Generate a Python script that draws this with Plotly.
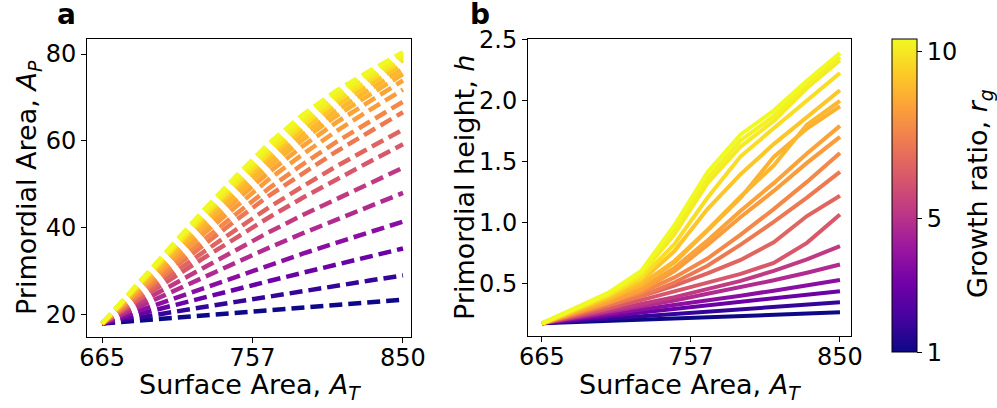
import plotly.graph_objects as go
from plotly.colors import sample_colorscale

# ---------------- data ----------------
surface_area = [665.0, 685.4, 705.9, 726.3, 746.8, 767.2, 787.7, 808.1, 828.6, 849.0]

# growth ratio of each curve (colour), lowest to highest
growth_ratio = [1.0, 1.7, 2.8, 3.6, 4.6, 5.1, 6.0, 6.4, 7.0, 7.4,
                7.9, 8.1, 8.45, 8.55, 8.9, 9.4, 9.7, 9.85, 10.0]

# panel a: primordial area A_P (one list per curve)
area_p1 = [17.9, 18.5, 19.1, 19.7, 20.3, 21.0, 21.6, 22.2, 22.8, 23.4]
area_p2 = [17.9, 19.2, 20.4, 21.6, 22.9, 24.1, 25.4, 26.6, 27.8, 29.0]
area_p3 = [17.9, 19.9, 21.8, 23.8, 25.8, 27.7, 29.6, 31.5, 33.4, 35.2]
area_p4 = [17.9, 20.6, 23.3, 26.0, 28.7, 31.4, 34.0, 36.5, 39.0, 41.4]
area_p5 = [17.9, 21.4, 24.9, 28.5, 31.9, 35.4, 38.7, 41.9, 44.9, 48.0]
area_p6 = [17.9, 22.2, 26.4, 30.6, 34.8, 39.0, 42.9, 46.6, 50.2, 53.8]
area_p7 = [17.9, 22.9, 27.8, 32.8, 37.6, 42.4, 46.9, 51.1, 55.2, 59.2]
area_p8 = [17.9, 23.4, 28.8, 34.2, 39.5, 44.7, 49.5, 54.1, 58.4, 62.6]
area_p9 = [17.9, 23.9, 29.9, 35.9, 41.7, 47.4, 52.6, 57.5, 62.1, 66.6]
area_p10 = [17.9, 24.3, 30.7, 36.9, 43.1, 49.1, 54.6, 59.7, 64.4, 69.0]
area_p11 = [17.9, 24.7, 31.5, 38.3, 44.8, 51.2, 56.9, 62.2, 67.1, 71.8]
area_p12 = [17.9, 25.1, 32.2, 39.3, 46.2, 52.8, 58.8, 64.2, 69.1, 73.9]
area_p13 = [17.9, 25.4, 32.8, 40.1, 47.2, 54.1, 60.2, 65.7, 70.6, 75.4]
area_p14 = [17.9, 25.6, 33.3, 40.9, 48.2, 55.2, 61.4, 66.9, 71.8, 76.6]
area_p15 = [17.9, 25.9, 33.7, 41.5, 49.1, 56.3, 62.6, 68.1, 73.0, 77.7]
area_p16 = [17.9, 26.0, 34.2, 42.2, 49.9, 57.2, 63.6, 69.1, 74.0, 78.6]
area_p17 = [17.9, 26.2, 34.5, 42.7, 50.6, 58.1, 64.5, 70.0, 74.8, 79.3]
area_p18 = [17.9, 26.4, 34.9, 43.3, 51.3, 58.8, 65.3, 70.8, 75.5, 79.9]
area_p19 = [17.9, 26.6, 35.2, 43.7, 51.8, 59.5, 66.0, 71.5, 76.1, 80.4]

# panel b: primordial height h (one list per curve)
height_1 = [0.170, 0.180, 0.190, 0.200, 0.210, 0.220, 0.230, 0.240, 0.250, 0.260]
height_2 = [0.170, 0.189, 0.208, 0.227, 0.246, 0.266, 0.285, 0.304, 0.323, 0.342]
height_3 = [0.170, 0.199, 0.229, 0.258, 0.287, 0.317, 0.346, 0.375, 0.405, 0.434]
height_4 = [0.170, 0.207, 0.245, 0.282, 0.319, 0.358, 0.397, 0.438, 0.481, 0.525]
height_5 = [0.170, 0.216, 0.262, 0.310, 0.358, 0.412, 0.465, 0.523, 0.585, 0.653]
height_6 = [0.170, 0.221, 0.271, 0.328, 0.385, 0.449, 0.518, 0.600, 0.695, 0.803]
height_7 = [0.170, 0.230, 0.292, 0.360, 0.430, 0.500, 0.575, 0.665, 0.830, 1.063]
height_8 = [0.170, 0.240, 0.310, 0.392, 0.480, 0.580, 0.690, 0.835, 1.050, 1.216]
height_9 = [0.170, 0.245, 0.319, 0.394, 0.505, 0.642, 0.816, 1.002, 1.201, 1.412]
height_10 = [0.170, 0.254, 0.338, 0.422, 0.547, 0.701, 0.897, 1.107, 1.330, 1.568]
height_11 = [0.170, 0.254, 0.338, 0.438, 0.598, 0.813, 1.042, 1.256, 1.486, 1.700]
height_12 = [0.170, 0.259, 0.348, 0.454, 0.624, 0.850, 1.093, 1.320, 1.563, 1.790]
height_13 = [0.170, 0.268, 0.366, 0.482, 0.670, 0.930, 1.200, 1.535, 1.768, 1.951]
height_14 = [0.170, 0.270, 0.371, 0.489, 0.681, 0.936, 1.210, 1.465, 1.800, 1.994]
height_15 = [0.170, 0.275, 0.380, 0.514, 0.763, 1.107, 1.394, 1.640, 1.860, 2.082]
height_16 = [0.170, 0.283, 0.396, 0.540, 0.820, 1.200, 1.540, 1.770, 2.000, 2.224]
height_17 = [0.170, 0.287, 0.405, 0.570, 0.900, 1.320, 1.620, 1.830, 2.100, 2.328]
height_18 = [0.170, 0.290, 0.412, 0.585, 0.940, 1.360, 1.670, 1.870, 2.130, 2.355]
height_19 = [0.170, 0.293, 0.420, 0.600, 0.975, 1.410, 1.720, 1.915, 2.160, 2.388]

x_tick_vals = [665, 757, 849]
x_tick_text = ["665", "757", "850"]
a_tick_vals = [20, 40, 60, 80]
b_tick_vals = [0.5, 1.0, 1.5, 2.0, 2.5]
cbar_tick_vals = [1, 5, 10]

area_curves = [area_p1, area_p2, area_p3, area_p4, area_p5, area_p6, area_p7,
               area_p8, area_p9, area_p10, area_p11, area_p12, area_p13,
               area_p14, area_p15, area_p16, area_p17, area_p18, area_p19]
height_curves = [height_1, height_2, height_3, height_4, height_5, height_6,
                 height_7, height_8, height_9, height_10, height_11, height_12,
                 height_13, height_14, height_15, height_16, height_17,
                 height_18, height_19]

# ---------------- figure ----------------
W, H = 997, 408
FONT = "DejaVu Sans"
FS = 24      # tick labels
FS_LAB = 27  # axis titles
R_MIN, R_MAX = 1.0, 10.37

colors = sample_colorscale("Plasma", [(r - 1.0) / 9.0 for r in growth_ratio])

fig = go.Figure()

for ys, c in zip(area_curves, colors):
    fig.add_trace(go.Scatter(x=surface_area, y=ys, mode="lines",
                             line=dict(color=c, width=4.5, dash="13px,6px"),
                             xaxis="x", yaxis="y", showlegend=False,
                             hoverinfo="skip"))

for ys, c in zip(height_curves, colors):
    fig.add_trace(go.Scatter(x=surface_area, y=ys, mode="lines",
                             line=dict(color=c, width=4),
                             xaxis="x2", yaxis="y2", showlegend=False,
                             hoverinfo="skip"))

# colour bar carrier
fig.add_trace(go.Scatter(
    x=[None], y=[None], mode="markers", xaxis="x2", yaxis="y2",
    showlegend=False, hoverinfo="skip",
    marker=dict(color=[R_MIN], colorscale="Plasma", cmin=R_MIN, cmax=R_MAX,
                showscale=True,
                colorbar=dict(
                    x=891.7 / W, xanchor="left", xpad=0,
                    y=1 - 39.3 / H, yanchor="top", ypad=0,
                    len=(352.0 - 39.3) / H, lenmode="fraction",
                    thickness=25, thicknessmode="pixels",
                    outlinewidth=1, outlinecolor="black",
                    tickmode="array", tickvals=cbar_tick_vals,
                    ticktext=[str(v) for v in cbar_tick_vals],
                    ticks="outside", ticklen=5, tickwidth=1, tickcolor="black",
                    tickfont=dict(family=FONT, size=FS, color="black"),
                ))))

axis_common = dict(showline=True, linecolor="black", linewidth=1, mirror=True,
                   ticks="outside", ticklen=5, tickwidth=1, tickcolor="black",
                   showgrid=False, zeroline=False, automargin=False,
                   tickfont=dict(family=FONT, size=FS, color="black"))

fig.update_layout(
    width=W, height=H,
    margin=dict(l=0, r=0, t=0, b=0, autoexpand=False),
    paper_bgcolor="white", plot_bgcolor="white",
    font=dict(family=FONT, size=FS, color="black"),
    xaxis=dict(domain=[87 / W, 411 / W], range=[655.8, 853.9],
               tickvals=x_tick_vals, ticktext=x_tick_text, anchor="y",
               ticklabelstandoff=-6, **axis_common),
    yaxis=dict(domain=[1 - 337 / H, 1 - 39.3 / H], range=[14.8, 83.4],
               tickvals=a_tick_vals, anchor="x", **axis_common),
    xaxis2=dict(domain=[528 / W, 851 / W], range=[656.4, 855.8],
                tickvals=x_tick_vals, ticktext=x_tick_text, anchor="y2",
                ticklabelstandoff=-6, **axis_common),
    yaxis2=dict(domain=[1 - 336 / H, 1 - 39.3 / H], range=[0.066, 2.5],
                tickvals=b_tick_vals, tickformat=".1f", anchor="x2",
                **axis_common),
)

def ann(text, x, y, angle=0, size=FS_LAB, bold=False):
    t = f"<b>{text}</b>" if bold else text
    fig.add_annotation(text=t, x=x / W, y=1 - y / H, xref="paper", yref="paper",
                       xanchor="center", yanchor="middle", showarrow=False,
                       textangle=angle,
                       font=dict(family=FONT, size=size, color="black"))

ann("Surface Area, <i>A</i><sub><i>T</i></sub>", 250, 386)
ann("Surface Area, <i>A</i><sub><i>T</i></sub>", 690, 386)
ann("Primordial Area, <i>A</i><sub><i>P</i></sub>", 29, 188, angle=-90)
ann("Primordial height, <i>h</i>", 465, 188, angle=-90)
ann("Growth ratio, <i>r</i><sub><i>g</i></sub>", 979, 194, angle=-90)
ann("a", 66, 15, size=28, bold=True)
ann("b", 480, 15, size=28, bold=True)

fig.write_html("out.html", config={"displayModeBar": False},
               post_script="document.body.style.margin='0';")
